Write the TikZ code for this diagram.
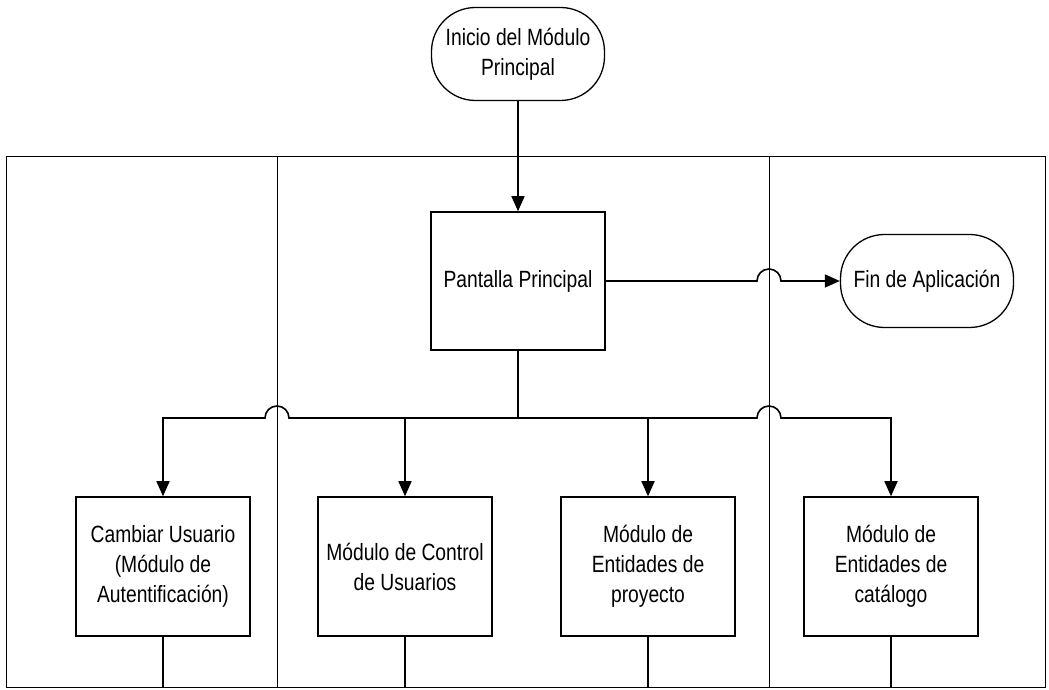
\documentclass[tikz,border=0pt]{standalone}
\usepackage{fontspec}
\setmainfont{Liberation Sans}[FakeStretch=0.82]
\usetikzlibrary{arrows.meta}
\begin{document}
\begin{tikzpicture}[x=1pt,y=1pt,
  every node/.style={font=\fontsize{23.5}{30}\selectfont, align=center, inner sep=0pt},
  procbox/.style={draw, line width=1.5pt, minimum width=174pt, minimum height=139pt},
  termbox/.style={draw, line width=1.3pt, rounded corners=44pt, minimum width=173pt, minimum height=93pt},
  conn/.style={line width=1.6pt},
  arr/.style={conn, -{Triangle[length=15pt,width=13pt]}},
  lane/.style={line width=1pt}]
\useasboundingbox (0,0) rectangle (1049,690);
% swimlane frame
\draw[lane] (6,2) rectangle (1045,533);
\draw[lane] (277,2) -- (277,533);
\draw[lane] (769,2) -- (769,533);
% nodes
\node[termbox] (ini) at (518,636) {Inicio del Módulo\\Principal};
\node[procbox, minimum height=138pt] (pp) at (518,409) {Pantalla Principal};
\node[termbox] (fin) at (927,409) {Fin de Aplicación};
\node[procbox] (cu) at (163,123.5) {Cambiar Usuario\\(Módulo de\\Autentificación)};
\node[procbox] (mc) at (405,123.5) {Módulo de Control\\de Usuarios};
\node[procbox] (mp) at (648,123.5) {Módulo de\\Entidades de\\proyecto};
\node[procbox] (mk) at (891,123.5) {Módulo de\\Entidades de\\catálogo};
\coordinate (j) at (518,272);
% connectors
\draw[arr] (ini.south) -- (pp.north);
\draw[arr] (pp.east) -- (757,409) arc[start angle=180,end angle=0,radius=12] -- (fin.west);
\draw[conn] (pp.south) -- (j);
\draw[arr] (j) -- (289,272) arc[start angle=0,end angle=180,radius=12] -| (cu.north);
\draw[arr] (j) -| (mc.north);
\draw[arr] (j) -| (mp.north);
\draw[arr] (j) -- (757,272) arc[start angle=180,end angle=0,radius=12] -| (mk.north);
\foreach \b in {cu,mc,mp,mk}{
  \draw[conn] (\b.south) -- (\b.south |- 0,2);
}
\end{tikzpicture}
\end{document}
